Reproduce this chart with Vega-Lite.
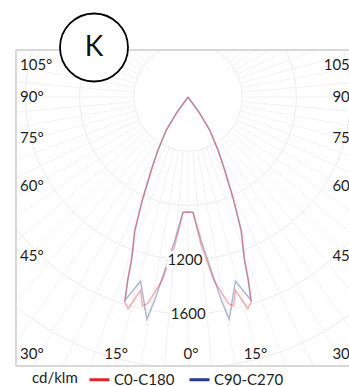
{
  "$schema": "https://vega.github.io/schema/vega-lite/v6.json",
  "width": 333,
  "height": 316,
  "autosize": {"type": "none"},
  "padding": {"left": 16, "top": 50, "right": 0, "bottom": 20},
  "background": "white",
  "config": {"view": {"stroke": null}, "font": "Lato"},
  "datasets": {
    "curves": [
      {"series": "C90-C270", "angle": -38, "cd": 0, "x": 0, "y": 0},
      {"series": "C90-C270", "angle": -35.6, "cd": 147, "x": -85.6, "y": -119.5},
      {"series": "C90-C270", "angle": -33.2, "cd": 291, "x": -159.4, "y": -243.5},
      {"series": "C90-C270", "angle": -29.4, "cd": 449, "x": -220.4, "y": -391.2},
      {"series": "C90-C270", "angle": -26.6, "cd": 603, "x": -270.0, "y": -539.2},
      {"series": "C90-C270", "angle": -24.6, "cd": 753, "x": -313.5, "y": -684.7},
      {"series": "C90-C270", "angle": -23.8, "cd": 834, "x": -336.6, "y": -763.1},
      {"series": "C90-C270", "angle": -21.7, "cd": 1057, "x": -390.8, "y": -982.1},
      {"series": "C90-C270", "angle": -19.2, "cd": 1258, "x": -413.7, "y": -1188.0},
      {"series": "C90-C270", "angle": -18.2, "cd": 1421, "x": -443.8, "y": -1349.9},
      {"series": "C90-C270", "angle": -17.2, "cd": 1569, "x": -464.0, "y": -1498.8},
      {"series": "C90-C270", "angle": -14.45, "cd": 1402, "x": -349.9, "y": -1357.6},
      {"series": "C90-C270", "angle": -10.5, "cd": 1668, "x": -304.0, "y": -1640.1},
      {"series": "C90-C270", "angle": -9.3, "cd": 1518, "x": -245.3, "y": -1498.1},
      {"series": "C90-C270", "angle": -7.6, "cd": 1288, "x": -170.4, "y": -1276.7},
      {"series": "C90-C270", "angle": -5.2, "cd": 1060, "x": -96.1, "y": -1055.6},
      {"series": "C90-C270", "angle": -2.5, "cd": 849, "x": -37.0, "y": -848.2},
      {"series": "C90-C270", "angle": 0, "cd": 849, "x": 0, "y": -849},
      {"series": "C90-C270", "angle": 2.5, "cd": 849, "x": 37.0, "y": -848.2},
      {"series": "C90-C270", "angle": 5.2, "cd": 1060, "x": 96.1, "y": -1055.6},
      {"series": "C90-C270", "angle": 7.6, "cd": 1288, "x": 170.4, "y": -1276.7},
      {"series": "C90-C270", "angle": 9.3, "cd": 1518, "x": 245.3, "y": -1498.1},
      {"series": "C90-C270", "angle": 10.5, "cd": 1668, "x": 304.0, "y": -1640.1},
      {"series": "C90-C270", "angle": 14.45, "cd": 1402, "x": 349.9, "y": -1357.6},
      {"series": "C90-C270", "angle": 17.2, "cd": 1569, "x": 464.0, "y": -1498.8},
      {"series": "C90-C270", "angle": 18.2, "cd": 1421, "x": 443.8, "y": -1349.9},
      {"series": "C90-C270", "angle": 19.2, "cd": 1258, "x": 413.7, "y": -1188.0},
      {"series": "C90-C270", "angle": 21.7, "cd": 1057, "x": 390.8, "y": -982.1},
      {"series": "C90-C270", "angle": 23.8, "cd": 834, "x": 336.6, "y": -763.1},
      {"series": "C90-C270", "angle": 24.6, "cd": 753, "x": 313.5, "y": -684.7},
      {"series": "C90-C270", "angle": 26.6, "cd": 603, "x": 270.0, "y": -539.2},
      {"series": "C90-C270", "angle": 29.4, "cd": 449, "x": 220.4, "y": -391.2},
      {"series": "C90-C270", "angle": 33.2, "cd": 291, "x": 159.4, "y": -243.5},
      {"series": "C90-C270", "angle": 35.6, "cd": 147, "x": 85.6, "y": -119.5},
      {"series": "C90-C270", "angle": 38, "cd": 0, "x": 0, "y": 0},
      {"series": "C0-C180", "angle": -38, "cd": 0, "x": 0, "y": 0},
      {"series": "C0-C180", "angle": -35.6, "cd": 151, "x": -87.9, "y": -122.8},
      {"series": "C0-C180", "angle": -33.2, "cd": 297, "x": -162.7, "y": -248.5},
      {"series": "C0-C180", "angle": -29.4, "cd": 458, "x": -224.8, "y": -399.0},
      {"series": "C0-C180", "angle": -26.6, "cd": 613, "x": -274.5, "y": -548.1},
      {"series": "C0-C180", "angle": -24.6, "cd": 764, "x": -318.0, "y": -694.7},
      {"series": "C0-C180", "angle": -23.8, "cd": 845, "x": -341.0, "y": -773.1},
      {"series": "C0-C180", "angle": -21.7, "cd": 1070, "x": -395.6, "y": -994.2},
      {"series": "C0-C180", "angle": -19.2, "cd": 1269, "x": -417.3, "y": -1198.4},
      {"series": "C0-C180", "angle": -18.2, "cd": 1432, "x": -447.3, "y": -1360.4},
      {"series": "C0-C180", "angle": -17.2, "cd": 1579, "x": -466.9, "y": -1508.4},
      {"series": "C0-C180", "angle": -15.8, "cd": 1624, "x": -442.2, "y": -1562.6},
      {"series": "C0-C180", "angle": -13.8, "cd": 1469, "x": -350.4, "y": -1426.6},
      {"series": "C0-C180", "angle": -12.3, "cd": 1579, "x": -336.4, "y": -1542.8},
      {"series": "C0-C180", "angle": -11, "cd": 1550, "x": -295.8, "y": -1521.5},
      {"series": "C0-C180", "angle": -8, "cd": 1365, "x": -190.0, "y": -1351.7},
      {"series": "C0-C180", "angle": -5, "cd": 1092, "x": -95.2, "y": -1087.8},
      {"series": "C0-C180", "angle": -2.5, "cd": 856, "x": -37.3, "y": -855.2},
      {"series": "C0-C180", "angle": 0, "cd": 849, "x": 0, "y": -849},
      {"series": "C0-C180", "angle": 2.5, "cd": 856, "x": 37.3, "y": -855.2},
      {"series": "C0-C180", "angle": 5, "cd": 1092, "x": 95.2, "y": -1087.8},
      {"series": "C0-C180", "angle": 8, "cd": 1365, "x": 190.0, "y": -1351.7},
      {"series": "C0-C180", "angle": 11, "cd": 1550, "x": 295.8, "y": -1521.5},
      {"series": "C0-C180", "angle": 12.3, "cd": 1579, "x": 336.4, "y": -1542.8},
      {"series": "C0-C180", "angle": 13.8, "cd": 1469, "x": 350.4, "y": -1426.6},
      {"series": "C0-C180", "angle": 15.8, "cd": 1624, "x": 442.2, "y": -1562.6},
      {"series": "C0-C180", "angle": 17.2, "cd": 1579, "x": 466.9, "y": -1508.4},
      {"series": "C0-C180", "angle": 18.2, "cd": 1432, "x": 447.3, "y": -1360.4},
      {"series": "C0-C180", "angle": 19.2, "cd": 1269, "x": 417.3, "y": -1198.4},
      {"series": "C0-C180", "angle": 21.7, "cd": 1070, "x": 395.6, "y": -994.2},
      {"series": "C0-C180", "angle": 23.8, "cd": 845, "x": 341.0, "y": -773.1},
      {"series": "C0-C180", "angle": 24.6, "cd": 764, "x": 318.0, "y": -694.7},
      {"series": "C0-C180", "angle": 26.6, "cd": 613, "x": 274.5, "y": -548.1},
      {"series": "C0-C180", "angle": 29.4, "cd": 458, "x": 224.8, "y": -399.0},
      {"series": "C0-C180", "angle": 33.2, "cd": 297, "x": 162.7, "y": -248.5},
      {"series": "C0-C180", "angle": 35.6, "cd": 151, "x": 87.9, "y": -122.8},
      {"series": "C0-C180", "angle": 38, "cd": 0, "x": 0, "y": 0}
    ],
    "rings": [
      {"r": 400, "x": 0, "y": 0},
      {"r": 800, "x": 0, "y": 0},
      {"r": 1200, "x": 0, "y": 0},
      {"r": 1600, "x": 0, "y": 0},
      {"r": 2000, "x": 0, "y": 0}
    ],
    "rays": [
      {"a": 0, "x": 0, "y": -400, "x2": 0, "y2": -2600},
      {"a": 5, "x": 34.9, "y": -398.5, "x2": 226.6, "y2": -2590.1},
      {"a": 10, "x": 69.5, "y": -393.9, "x2": 451.5, "y2": -2560.5},
      {"a": 15, "x": 103.5, "y": -386.4, "x2": 672.9, "y2": -2511.4},
      {"a": 20, "x": 136.8, "y": -375.9, "x2": 889.3, "y2": -2443.2},
      {"a": 25, "x": 169.0, "y": -362.5, "x2": 1098.8, "y2": -2356.4},
      {"a": 30, "x": 200, "y": -346.4, "x2": 1300, "y2": -2251.7},
      {"a": 35, "x": 229.4, "y": -327.7, "x2": 1491.3, "y2": -2129.8},
      {"a": 40, "x": 257.1, "y": -306.4, "x2": 1671.3, "y2": -1991.7},
      {"a": 45, "x": 282.8, "y": -282.8, "x2": 1838.5, "y2": -1838.5},
      {"a": 50, "x": 306.4, "y": -257.1, "x2": 1991.7, "y2": -1671.3},
      {"a": 55, "x": 327.7, "y": -229.4, "x2": 2129.8, "y2": -1491.3},
      {"a": 60, "x": 346.4, "y": -200, "x2": 2251.7, "y2": -1300},
      {"a": 65, "x": 362.5, "y": -169.0, "x2": 2356.4, "y2": -1098.8},
      {"a": 70, "x": 375.9, "y": -136.8, "x2": 2443.2, "y2": -889.3},
      {"a": 75, "x": 386.4, "y": -103.5, "x2": 2511.4, "y2": -672.9},
      {"a": 80, "x": 393.9, "y": -69.5, "x2": 2560.5, "y2": -451.5},
      {"a": 85, "x": 398.5, "y": -34.9, "x2": 2590.1, "y2": -226.6},
      {"a": 90, "x": 400, "y": 0, "x2": 2600, "y2": 0},
      {"a": 95, "x": 398.5, "y": 34.9, "x2": 2590.1, "y2": 226.6},
      {"a": 100, "x": 393.9, "y": 69.5, "x2": 2560.5, "y2": 451.5},
      {"a": 105, "x": 386.4, "y": 103.5, "x2": 2511.4, "y2": 672.9},
      {"a": 110, "x": 375.9, "y": 136.8, "x2": 2443.2, "y2": 889.3},
      {"a": 115, "x": 362.5, "y": 169.0, "x2": 2356.4, "y2": 1098.8},
      {"a": 120, "x": 346.4, "y": 200, "x2": 2251.7, "y2": 1300},
      {"a": 125, "x": 327.7, "y": 229.4, "x2": 2129.8, "y2": 1491.3},
      {"a": 130, "x": 306.4, "y": 257.1, "x2": 1991.7, "y2": 1671.3},
      {"a": 135, "x": 282.8, "y": 282.8, "x2": 1838.5, "y2": 1838.5},
      {"a": 140, "x": 257.1, "y": 306.4, "x2": 1671.3, "y2": 1991.7},
      {"a": -5, "x": -34.9, "y": -398.5, "x2": -226.6, "y2": -2590.1},
      {"a": -10, "x": -69.5, "y": -393.9, "x2": -451.5, "y2": -2560.5},
      {"a": -15, "x": -103.5, "y": -386.4, "x2": -672.9, "y2": -2511.4},
      {"a": -20, "x": -136.8, "y": -375.9, "x2": -889.3, "y2": -2443.2},
      {"a": -25, "x": -169.0, "y": -362.5, "x2": -1098.8, "y2": -2356.4},
      {"a": -30, "x": -200, "y": -346.4, "x2": -1300, "y2": -2251.7},
      {"a": -35, "x": -229.4, "y": -327.7, "x2": -1491.3, "y2": -2129.8},
      {"a": -40, "x": -257.1, "y": -306.4, "x2": -1671.3, "y2": -1991.7},
      {"a": -45, "x": -282.8, "y": -282.8, "x2": -1838.5, "y2": -1838.5},
      {"a": -50, "x": -306.4, "y": -257.1, "x2": -1991.7, "y2": -1671.3},
      {"a": -55, "x": -327.7, "y": -229.4, "x2": -2129.8, "y2": -1491.3},
      {"a": -60, "x": -346.4, "y": -200, "x2": -2251.7, "y2": -1300},
      {"a": -65, "x": -362.5, "y": -169.0, "x2": -2356.4, "y2": -1098.8},
      {"a": -70, "x": -375.9, "y": -136.8, "x2": -2443.2, "y2": -889.3},
      {"a": -75, "x": -386.4, "y": -103.5, "x2": -2511.4, "y2": -672.9},
      {"a": -80, "x": -393.9, "y": -69.5, "x2": -2560.5, "y2": -451.5},
      {"a": -85, "x": -398.5, "y": -34.9, "x2": -2590.1, "y2": -226.6},
      {"a": -90, "x": -400, "y": 0, "x2": -2600, "y2": 0},
      {"a": -95, "x": -398.5, "y": 34.9, "x2": -2590.1, "y2": 226.6},
      {"a": -100, "x": -393.9, "y": 69.5, "x2": -2560.5, "y2": 451.5},
      {"a": -105, "x": -386.4, "y": 103.5, "x2": -2511.4, "y2": 672.9},
      {"a": -110, "x": -375.9, "y": 136.8, "x2": -2443.2, "y2": 889.3},
      {"a": -115, "x": -362.5, "y": 169.0, "x2": -2356.4, "y2": 1098.8},
      {"a": -120, "x": -346.4, "y": 200, "x2": -2251.7, "y2": 1300},
      {"a": -125, "x": -327.7, "y": 229.4, "x2": -2129.8, "y2": 1491.3},
      {"a": -130, "x": -306.4, "y": 257.1, "x2": -1991.7, "y2": 1671.3},
      {"a": -135, "x": -282.8, "y": 282.8, "x2": -1838.5, "y2": 1838.5},
      {"a": -140, "x": -257.1, "y": 306.4, "x2": -1671.3, "y2": 1991.7}
    ],
    "valueLabels": [
      {"label": "1200", "x": -22, "y": -1200},
      {"label": "1600", "x": 2, "y": -1600}
    ],
    "leftLabels": [
      {"label": "105°", "x": -1240, "y": 236},
      {"label": "90°", "x": -1240, "y": 0},
      {"label": "75°", "x": -1240, "y": -299},
      {"label": "60°", "x": -1240, "y": -657},
      {"label": "45°", "x": -1240, "y": -1177},
      {"label": "30°", "x": -1240, "y": -1893}
    ],
    "rightLabels": [
      {"label": "105°", "x": 1240, "y": 236},
      {"label": "90°", "x": 1240, "y": 0},
      {"label": "75°", "x": 1240, "y": -299},
      {"label": "60°", "x": 1240, "y": -657},
      {"label": "45°", "x": 1240, "y": -1177},
      {"label": "30°", "x": 1240, "y": -1893}
    ],
    "bottomLabels": [
      {"label": "15°", "x": -531, "y": -1893},
      {"label": "0°", "x": 22, "y": -1893},
      {"label": "15°", "x": 498, "y": -1893}
    ],
    "frame": [
      {"x": -1269.4, "y": -1985.2, "x2": -1269.4, "y2": 346.9},
      {"x": -1269.4, "y": 346.9, "x2": 1188.2, "y2": 346.9},
      {"x": -1269.4, "y": -1985.2, "x2": 1188.2, "y2": -1985.2}
    ],
    "badge": [
      {"label": "K", "x": -693.7, "y": 365.3}
    ]
  },
  "encoding": {
    "x": {"field": "x", "type": "quantitative", "scale": {"domain": [-1269.4, 1188.2], "nice": false, "zero": false}, "axis": null},
    "y": {"field": "y", "type": "quantitative", "scale": {"domain": [-1985.2, 346.9], "nice": false, "zero": false}, "axis": null}
  },
  "layer": [
    {
      "data": {"name": "rings"},
      "mark": {"type": "point", "shape": "circle", "filled": false, "color": "#ececec", "strokeWidth": 1, "opacity": 1, "clip": true},
      "encoding": {
        "size": {"field": "r", "type": "quantitative", "scale": {"type": "pow", "exponent": 2, "domain": [0, 2000], "range": [0, 293764]}, "legend": null}
      }
    },
    {
      "data": {"name": "rays"},
      "mark": {"type": "rule", "color": "#f2f2f2", "strokeWidth": 1, "clip": true},
      "encoding": {
        "x2": {"field": "x2"},
        "y2": {"field": "y2"}
      }
    },
    {
      "data": {"name": "curves"},
      "mark": {"type": "line", "strokeWidth": 1.5, "opacity": 0.36, "clip": true},
      "encoding": {
        "color": {
          "field": "series", "type": "nominal",
          "scale": {"domain": ["C0-C180", "C90-C270"], "range": ["#e3242b", "#273a8c"]},
          "legend": {
            "orient": "none", "legendX": 16, "legendY": 318, "direction": "horizontal",
            "title": "cd/klm", "titleOrient": "left", "titleFontSize": 15, "titleFontWeight": "normal",
            "titleColor": "#222222", "titleFont": "Lato", "titlePadding": 10,
            "labelFontSize": 15, "labelFont": "Lato", "labelColor": "#222222", "labelOffset": 3,
            "symbolType": "stroke", "symbolStrokeWidth": 3, "symbolSize": 400, "symbolOpacity": 1,
            "columnPadding": 8
          }
        },
        "order": {"field": "angle", "type": "quantitative"}
      }
    },
    {
      "data": {"name": "valueLabels"},
      "mark": {"type": "text", "fontSize": 15, "font": "Lato", "stroke": "white", "strokeWidth": 6, "fill": "white", "baseline": "middle", "align": "center"},
      "encoding": {"text": {"field": "label"}}
    },
    {
      "data": {"name": "valueLabels"},
      "mark": {"type": "text", "fontSize": 15, "font": "Lato", "color": "#1e1e1e", "baseline": "middle", "align": "center"},
      "encoding": {"text": {"field": "label"}}
    },
    {
      "data": {"name": "leftLabels"},
      "mark": {"type": "text", "fontSize": 15, "font": "Lato", "color": "#1e1e1e", "baseline": "middle", "align": "left"},
      "encoding": {"text": {"field": "label"}}
    },
    {
      "data": {"name": "rightLabels"},
      "mark": {"type": "text", "fontSize": 15, "font": "Lato", "color": "#1e1e1e", "baseline": "middle", "align": "right", "clip": true},
      "encoding": {"text": {"field": "label"}}
    },
    {
      "data": {"name": "bottomLabels"},
      "mark": {"type": "text", "fontSize": 15, "font": "Lato", "color": "#1e1e1e", "baseline": "middle", "align": "center"},
      "encoding": {"text": {"field": "label"}}
    },
    {
      "data": {"name": "frame"},
      "mark": {"type": "rule", "color": "#cccccc", "strokeWidth": 1.5},
      "encoding": {
        "x2": {"field": "x2"},
        "y2": {"field": "y2"}
      }
    },
    {
      "data": {"name": "badge"},
      "mark": {"type": "point", "shape": "circle", "filled": true, "fill": "white", "stroke": "black", "strokeWidth": 1.8, "size": 4624, "opacity": 1, "fillOpacity": 1}
    },
    {
      "data": {"name": "badge"},
      "mark": {"type": "text", "fontSize": 28, "font": "Lato", "color": "#111111", "baseline": "middle", "align": "center"},
      "encoding": {"text": {"field": "label"}}
    }
  ]
}
